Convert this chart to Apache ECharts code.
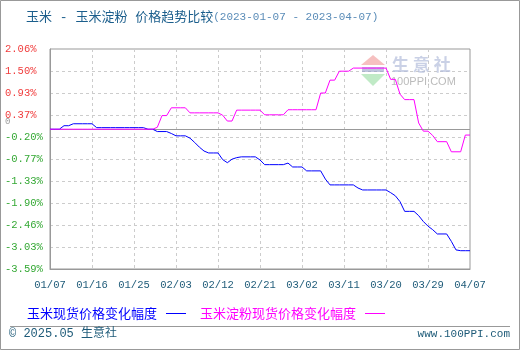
<!DOCTYPE html>
<html>
<head>
<meta charset="utf-8">
<script src="https://cdn.jsdelivr.net/npm/echarts@6/dist/echarts.min.js"></script>
<style>html,body{margin:0;padding:0;background:#fff}#c{width:520px;height:350px}</style>
</head>
<body>
<div id="c"></div>
<script>
// ---- data ----
var startDate = '2023-01-07';
var dayCount = 91;
var cornName = '玉米现货价格变化幅度';
var starchName = '玉米淀粉现货价格变化幅度';
var cornValues = [
  0, 0, 0, 0.09, 0.09, 0.14, 0.14, 0.14, 0.14, 0.14,
  0.04, 0.04, 0.04, 0.04, 0.04, 0.04, 0.04, 0.04, 0.04, 0.04,
  0.04, 0, 0, -0.06, -0.06, -0.06, -0.11, -0.17, -0.17, -0.17,
  -0.23, -0.34, -0.46, -0.56, -0.61, -0.61, -0.61, -0.78, -0.86, -0.77,
  -0.73, -0.71, -0.71, -0.71, -0.71, -0.79, -0.91, -0.91, -0.91, -0.91,
  -0.91, -0.87, -0.97, -0.97, -0.97, -1.07, -1.07, -1.07, -1.07, -1.28,
  -1.43, -1.43, -1.43, -1.43, -1.43, -1.43, -1.51, -1.56, -1.56, -1.56,
  -1.56, -1.56, -1.56, -1.63, -1.71, -1.86, -2.11, -2.11, -2.11, -2.22,
  -2.37, -2.49, -2.58, -2.69, -2.69, -2.69, -2.88, -3.10, -3.12, -3.12,
  -3.12
];
var starchValues = [
  0, 0, 0, 0, 0, 0, 0, 0, 0, 0,
  0, 0, 0, 0, 0, 0, 0, 0, 0, 0,
  0, 0, 0, 0.05, 0.35, 0.35, 0.55, 0.55, 0.55, 0.55,
  0.42, 0.42, 0.42, 0.42, 0.42, 0.42, 0.42, 0.36, 0.21, 0.21,
  0.49, 0.49, 0.49, 0.49, 0.49, 0.49, 0.37, 0.37, 0.37, 0.37,
  0.37, 0.50, 0.50, 0.50, 0.50, 0.50, 0.50, 0.50, 0.93, 0.93,
  1.26, 1.26, 1.49, 1.49, 1.49, 1.57, 1.57, 1.57, 1.57, 1.57,
  1.57, 1.57, 1.57, 1.28, 1.28, 0.90, 0.76, 0.76, 0.76, 0.16,
  -0.05, -0.05, -0.16, -0.32, -0.32, -0.32, -0.58, -0.58, -0.58, -0.15,
  -0.15
];
var yTickLabels = ['-3.59%', '-3.03%', '-2.46%', '-1.90%', '-1.33%', '-0.77%', '-0.20%', '0.37%', '0.93%', '1.50%', '2.06%'];
var yMin = -3.59, yMax = 2.06;
var yStep = (yMax - yMin) / 10;

// categories (one per day)
var categories = [];
(function () {
  var d = new Date(startDate + 'T00:00:00Z');
  for (var i = 0; i < dayCount; i++) {
    var m = d.getUTCMonth() + 1, dd = d.getUTCDate();
    categories.push((m < 10 ? '0' : '') + m + '/' + (dd < 10 ? '0' : '') + dd);
    d.setUTCDate(d.getUTCDate() + 1);
  }
})();

function shift(arr) { return arr.map(function (v) { return +(v - yMin).toFixed(4); }); }

var chart = echarts.init(document.getElementById('c'), null, {renderer: 'canvas'});
var mono = 'Liberation Mono, DejaVu Sans Mono, monospace';
var cjk = 'Noto Sans CJK SC, sans-serif';

var option = {
  animation: false,
  backgroundColor: '#fff',
  title: {
    left: 21, top: 6,
    text: '{a|玉米 - 玉米淀粉 价格趋势比较}{b|(2023-01-07 - 2023-04-07)}',
    textStyle: {
      fontWeight: 'normal',
      rich: {
        a: {fontFamily: 'Liberation Mono, Noto Sans CJK SC', fontSize: 13, fontWeight: 'normal', color: '#1b5e8c'},
        b: {fontFamily: mono, fontSize: 11, fontWeight: 'normal', color: '#5a8cb8'}
      }
    }
  },
  grid: {left: 50, right: 50, top: 49, bottom: 81, show: true, borderColor: '#999', borderWidth: 1, backgroundColor: 'transparent'},
  legend: {
    left: 22, top: 302, align: 'right', itemWidth: 20, itemHeight: 1, itemGap: 14,
    icon: 'rect',
    textStyle: {fontFamily: cjk, fontSize: 13, padding: [0, 4, 0, 0]},
    data: [
      {name: cornName, textStyle: {color: '#0000ff'}},
      {name: starchName, textStyle: {color: '#ff00ff'}}
    ]
  },
  xAxis: {
    type: 'category', data: categories, boundaryGap: false,
    axisLine: {show: true, lineStyle: {color: '#999'}},
    axisTick: {show: false},
    axisLabel: {interval: 8, margin: 11, fontFamily: mono, fontSize: 10.5, color: '#1d5a78'},
    splitLine: {show: true, interval: 8, lineStyle: {color: '#ccc', type: [3, 3]}}
  },
  yAxis: {
    type: 'value', min: 0, max: +(yMax - yMin).toFixed(4), interval: +yStep.toFixed(4),
    axisLine: {show: true, lineStyle: {color: '#999'}},
    axisTick: {show: false},
    axisLabel: {
      align: 'left', margin: 45, fontFamily: mono, fontSize: 10.5,
      formatter: function (v) { return yTickLabels[Math.round(v / yStep)] || ''; },
      color: function (v) { var i = Math.round(v / yStep); return (yTickLabels[i] || '').charAt(0) === '-' ? '#33a833' : '#f03c3c'; }
    },
    splitLine: {show: true, showMinLine: false, showMaxLine: false, lineStyle: {color: '#ccc', type: [3, 3]}}
  },
  series: [
    {
      name: 'zero', type: 'line', data: [], z: 1, silent: true,
      markLine: {
        z: 1, silent: true, symbol: 'none', label: {show: false}, animation: false,
        lineStyle: {color: '#999', width: 1, type: 'solid'},
        data: [{yAxis: -yMin}]
      }
    },
    {
      name: cornName, type: 'line', data: shift(cornValues), symbol: 'none', z: 2,
      lineStyle: {color: '#0000ff', width: 1}, itemStyle: {color: '#0000ff'}
    },
    {
      name: starchName, type: 'line', data: shift(starchValues), symbol: 'none', z: 3,
      lineStyle: {color: '#ff00ff', width: 1}, itemStyle: {color: '#ff00ff'}
    }
  ]
};
chart.setOption(option);

var zeroY = chart.convertToPixel({yAxisIndex: 0}, -yMin);
chart.setOption({
  graphic: [
    {type: 'rect', shape: {x: 0.5, y: 0.5, width: 519, height: 349}, style: {fill: 'none', stroke: '#999', lineWidth: 1}, silent: true},
    {type: 'line', shape: {x1: 10, y1: 326.5, x2: 510, y2: 326.5}, style: {stroke: '#999', lineWidth: 1}, silent: true},
    {type: 'text', left: 9, top: 328, style: {text: '© 2025.05 生意社', font: '12px Liberation Mono, Noto Sans CJK SC', fill: '#1d5a78'}},
    {type: 'text', right: 10, top: 329, style: {text: 'www.100PPI.com', font: '11px Liberation Mono', fill: '#1d5a78'}},
    {type: 'text', x: 5, y: zeroY - 12, style: {text: '0', font: '9px Liberation Mono', fill: '#999'}, z: 10},
    // watermark
    {type: 'polygon', shape: {points: [[373, 55], [361, 65], [385, 65]]}, style: {fill: 'rgba(240,150,150,0.6)'}, silent: true, z: 0},
    {type: 'polygon', shape: {points: [[361, 74], [385, 74], [373, 86]]}, style: {fill: 'rgba(150,220,160,0.6)'}, silent: true, z: 0},
    {type: 'rect', shape: {x: 362, y: 67, width: 22, height: 5}, style: {fill: 'rgba(150,160,200,0.6)'}, silent: true, z: 0},
    {type: 'text', x: 392, y: 56, style: {text: '生 意 社', font: 'bold 17px Noto Sans CJK SC', fill: 'rgba(180,190,220,0.7)'}, silent: true, z: 0},
    {type: 'text', x: 391, y: 76, style: {text: '100PPI.COM', font: '11px Liberation Sans', fill: 'rgba(170,170,170,0.8)'}, silent: true, z: 0}
  ]
});
</script>
</body>
</html>
